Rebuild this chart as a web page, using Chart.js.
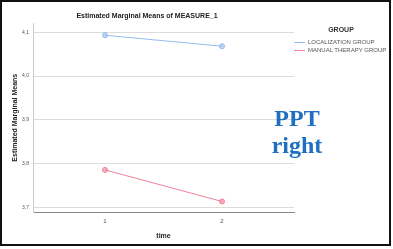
<!DOCTYPE html>
<html>
<head>
<meta charset="utf-8">
<script src="https://cdn.jsdelivr.net/npm/chart.js@4.4.0/dist/chart.umd.min.js"></script>
<style>
  html, body { margin: 0; padding: 0; background: #fff; }
  #wrap { position: relative; width: 393px; height: 249px; overflow: hidden; font-family: "Liberation Sans", Arial, sans-serif; }
  #frame { position: absolute; left: 0; top: 0; width: 387px; height: 242px; border: 2px solid #111; }
  canvas { position: absolute; left: 0; top: 0; }
  #legend { position: absolute; left: 294px; top: 26px; width: 94px; font-size: 6px; color: #555; }
  #legend .head { text-align: center; font-weight: bold; font-size: 7px; height: 8px; line-height: 8px; color: #333; margin-bottom: 4px; }
  #legend .row { position: relative; height: 8px; line-height: 8px; white-space: nowrap; padding-left: 14px; }
  #legend .sw { position: absolute; left: 0; top: 4px; width: 11px; height: 1px; }
  #ppt { position: absolute; left: 261px; top: 105px; width: 72px; text-align: center; font-family: "Liberation Serif", "DejaVu Serif", serif; font-weight: bold; font-size: 24px; line-height: 27px; color: #1f70c1; }
</style>
</head>
<body>
<div id="wrap">
  <canvas id="chart" width="393" height="249"></canvas>
  <div id="frame"></div>
  <div id="legend"></div>
  <div id="ppt">PPT<br>right</div>
</div>
<script>
// Données
const timeValues = [1, 2];
const groupNames = ['LOCALIZATION GROUP', 'MANUAL THERAPY GROUP'];
const localizationMeans = [4.093, 4.068];
const manualTherapyMeans = [3.786, 3.714];
const yTicks = [3.7, 3.8, 3.9, 4.0, 4.1];
const groupColors = ['#94bcef', '#ef8199'];

// Légende en HTML
const legend = document.getElementById('legend');
legend.innerHTML = '<div class="head">GROUP</div>' + groupNames.map((name, i) =>
  `<div class="row"><span class="sw" style="background:${groupColors[i]}"></span>${name}</div>`
).join('');

const toPoints = vals => vals.map((v, i) => ({ x: timeValues[i], y: v }));

new Chart(document.getElementById('chart'), {
  type: 'line',
  data: {
    datasets: [
      {
        label: groupNames[0],
        data: toPoints(localizationMeans),
        borderColor: groupColors[0],
        backgroundColor: 'rgba(148, 188, 239, 0.6)',
        borderWidth: 1,
        pointRadius: 2.5,
        pointBorderWidth: 1
      },
      {
        label: groupNames[1],
        data: toPoints(manualTherapyMeans),
        borderColor: groupColors[1],
        backgroundColor: 'rgba(239, 129, 153, 0.6)',
        borderWidth: 1,
        pointRadius: 2.5,
        pointBorderWidth: 1
      }
    ]
  },
  options: {
    responsive: false,
    animation: false,
    layout: { padding: { left: 0, right: 99, top: 0, bottom: 0 } },
    plugins: {
      legend: { display: false },
      tooltip: { enabled: false },
      title: {
        display: true,
        text: 'Estimated Marginal Means of MEASURE_1',
        color: '#222',
        font: { family: 'Liberation Sans', size: 7, weight: 'bold' },
        padding: { top: 12, bottom: 3 }
      }
    },
    scales: {
      x: {
        type: 'linear',
        min: 0.385,
        max: 2.615,
        afterBuildTicks: s => { s.ticks = timeValues.map(v => ({ value: v })); },
        afterFit: s => { s.height = 37; },
        grid: { display: false, drawTicks: false },
        border: { color: '#888', width: 1 },
        ticks: { color: '#555', padding: 6, font: { family: 'Liberation Sans', size: 6 } },
        title: {
          display: true,
          text: 'time',
          color: '#222',
          font: { family: 'Liberation Sans', size: 7, weight: 'bold' },
          padding: { top: 3, bottom: 9 }
        }
      },
      y: {
        min: 3.69,
        max: 4.12,
        afterBuildTicks: s => { s.ticks = yTicks.map(v => ({ value: v })); },
        afterFit: s => { s.width = 33; },
        grid: { color: '#dcdcdc', lineWidth: 1, drawTicks: false },
        border: { color: '#ccc', width: 1 },
        ticks: {
          color: '#555',
          padding: 4,
          font: { family: 'Liberation Sans', size: 5 },
          callback: v => v.toFixed(1).replace('.', ',')
        },
        title: {
          display: true,
          text: 'Estimated Marginal Means',
          color: '#222',
          font: { family: 'Liberation Sans', size: 7, weight: 'bold' },
          padding: { top: 11, bottom: 2 }
        }
      }
    }
  }
});
</script>
</body>
</html>
